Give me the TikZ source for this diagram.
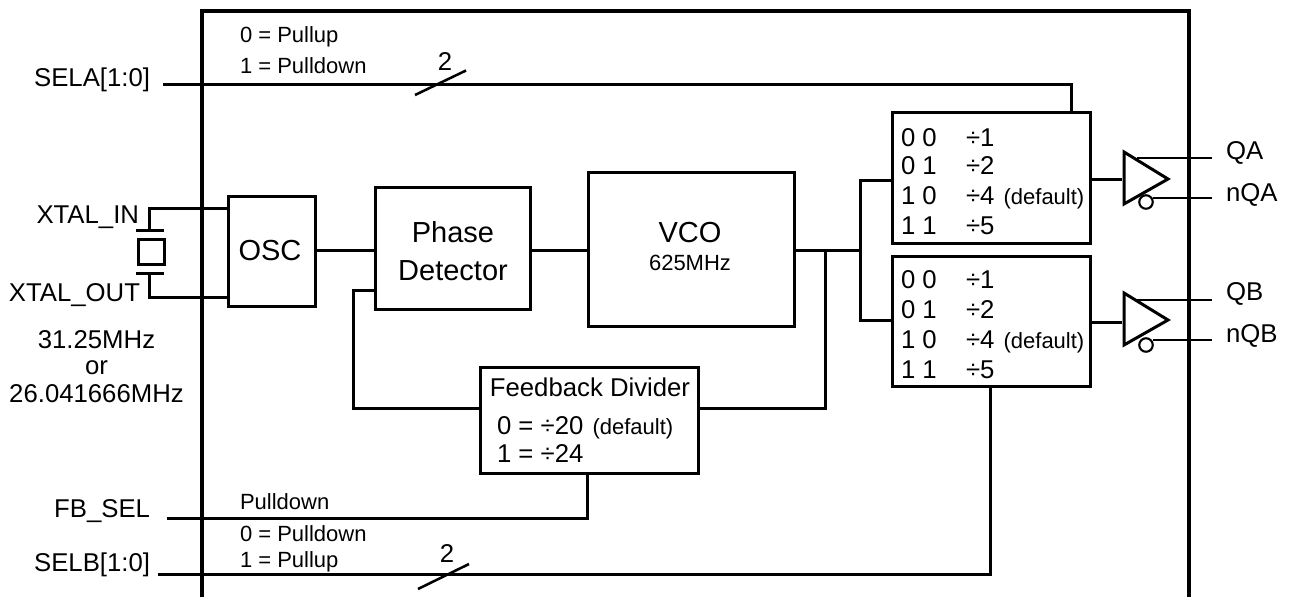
\documentclass[tikz,border=0pt]{standalone}
\usepackage{fontspec}
\setmainfont{Liberation Sans}
\def\u{0.75pt}
\newcommand{\fL}{\fontsize{19.3pt}{19.3pt}\selectfont}
\newcommand{\fM}{\fontsize{16.5pt}{16.5pt}\selectfont}
\newcommand{\fB}{\fontsize{21.75pt}{21.75pt}\selectfont}
\tikzset{
  blk/.style={draw,line width=2.25pt,inner sep=0pt,outer sep=0pt,fill=white},
  wire/.style={line width=2.25pt,line join=miter},
  thin wire/.style={line width=1.9pt},
  frame/.style={line width=3pt},
  lab/.style={inner sep=0pt,outer sep=0pt,anchor=base west,font=\fL},
  labr/.style={inner sep=0pt,outer sep=0pt,anchor=base east,font=\fL},
  labc/.style={inner sep=0pt,outer sep=0pt,anchor=base,font=\fL,align=center},
  note/.style={inner sep=0pt,outer sep=0pt,anchor=base west,font=\fM},
  slashw/.style={line width=1.9pt},
}
\begin{document}
\begin{tikzpicture}[x=0.75pt,y=-0.75pt]
\useasboundingbox (0,0) rectangle (1293,597);
\fill[white] (0,0) rectangle (1293,597);
\draw[frame] (202,597) -- (202,11) -- (1189,11) -- (1189,597);

% boxes
\node[blk,minimum width=87*\u,minimum height=110*\u] (osc) at (272,251) {};
\node[blk,minimum width=155*\u,minimum height=122*\u] (pd) at (452.7,248) {};
\node[blk,minimum width=206*\u,minimum height=154*\u] (vco) at (691,249) {};
\node[blk,minimum width=218*\u,minimum height=106*\u] (fb) at (589.5,420) {};
\node[blk,minimum width=198*\u,minimum height=131*\u] (muxa) at (991,177.5) {};
\node[blk,minimum width=198*\u,minimum height=130*\u] (muxb) at (991,321) {};

% coordinates
\coordinate (selaS) at (163,84);
\coordinate (selaT) at (1071,84);
\coordinate (selbS) at (158,574);
\coordinate (selbT) at (990,574);
\coordinate (fbsS) at (167,518);
\coordinate (fbsT) at (587,518);
\coordinate (j0) at (0,250.5);
\coordinate (j1) at (825,250.5);
\coordinate (j2) at (860,250.5);
\coordinate (ja) at (860,180);
\coordinate (jb) at (860,320);
\coordinate (jf) at (825,408.5);
\coordinate (pa) at (353,290.5);
\coordinate (pb) at (353,408.5);
\coordinate (xa) at (149.5,208);
\coordinate (xb) at (149.5,297);
\coordinate (xc) at (149.5,230);
\coordinate (xd) at (149.5,273);

\draw[wire] (selaS) -- (selaT) -- (selaT |- muxa.north);
\draw[wire] (selbS) -- (selbT) -- (selbT |- muxb.south);
\draw[wire] (fbsS) -- (fbsT) -- (fbsT |- fb.south);
\draw[wire] (osc.east |- j0) -- (pd.west |- j0);
\draw[wire] (pd.east |- j0) -- (vco.west |- j0);
\draw[wire] (vco.east |- j0) -- (j2);
\draw[wire] (muxa.west |- ja) -- (ja) -- (jb) -- (muxb.west |- jb);
\draw[wire] (j1) -- (jf) -- (fb.east |- jf);
\draw[wire] (fb.west |- pb) -- (pb) -- (pa) -- (pd.west |- pa);

% crystal
\draw[wire] (osc.west |- xa) -- (xa) -- (xc);
\draw[wire] (osc.west |- xb) -- (xb) -- (xd);
\coordinate (p1a) at (136,230); \coordinate (p1b) at (164,230);
\coordinate (p2a) at (136,273); \coordinate (p2b) at (164,273);
\draw[wire] (p1a) -- (p1b);
\draw[wire] (p2a) -- (p2b);
\node[blk,minimum width=26*\u,minimum height=25*\u] (xtal) at (151,251.5) {};

% slashes
\coordinate (s1a) at (415,95); \coordinate (s1b) at (466,70.5);
\coordinate (s2a) at (418,589); \coordinate (s2b) at (469,564);
\draw[slashw] (s1a) -- (s1b);
\draw[slashw] (s2a) -- (s2b);

% buffers
\foreach \n/\yy/\qq/\nq/\cy/\ly in {a/179/158/198/202/179,b/320/300/340/345/322}{
  \coordinate (t1\n) at (1124,\yy-27);
  \coordinate (t2\n) at (1124,\yy+25);
  \coordinate (t3\n) at (1168,\yy);
  \coordinate (ql\n) at (1137,\qq);
  \coordinate (qr\n) at (1212,\qq);
  \coordinate (nl\n) at (1153,\nq);
  \coordinate (nr\n) at (1212,\nq);
  \coordinate (ll\n) at (1122,\ly);
  \draw[thin wire] (ql\n) -- (qr\n);
  \draw[thin wire] (nl\n) -- (nr\n);
  \draw[wire] (mux\n.east |- ll\n) -- (ll\n);
  \draw[wire,line join=miter] (t1\n) -- (t2\n) -- (t3\n) -- cycle;
  \node[draw,circle,line width=1.6pt,fill=white,minimum size=13.5*\u,inner sep=0pt] (c\n) at (1146,\cy) {};
}

% text
\node[labr] (tsela) at (150,86) {SELA[1:0]};
\node[labr] (txin) at (139,223) {XTAL\_IN};
\node[labr] (txout) at (140,301.5) {XTAL\_OUT};
\node[labc] (tf1) at (96.5,348) {31.25MHz};
\node[labc] (tf2) at (96.5,374) {or};
\node[labc] (tf3) at (96.5,402) {26.041666MHz};
\node[labr] (tfbs) at (150,517) {FB\_SEL};
\node[labr] (tselb) at (150,571) {SELB[1:0]};

\node[note] (n1) at (240,42) {0 = Pullup};
\node[note] (n2) at (240,73) {1 = Pulldown};
\node[note] (n3) at (240,509) {Pulldown};
\node[note] (n4) at (240,541) {0 = Pulldown};
\node[note] (n5) at (240,567) {1 = Pullup};
\node[labc] (two1) at (445,70) {2};
\node[labc] (two2) at (447,562) {2};

\node[labc,font=\fB] (tosc) at (270,260) {OSC};
\node[labc,font=\fB] (tp) at (453,242.5) {Phase};
\node[labc,font=\fB] (td) at (453,280) {Detector};
\node[labc,font=\fB] (tv) at (690,242) {VCO};
\node[labc,font=\fM] (tv2) at (690,270) {625MHz};
\node[labc] (tfd) at (590,396) {Feedback Divider};
\node[lab] (tf0) at (497,434) {0 = ÷20\hspace{1.5pt} {\fM(default)}};
\node[lab] (tf4) at (497,462) {1 = ÷24};

\foreach \m/\ya/\yb/\yc/\yd in {a/146/174/204/234,b/288/318/348/378}{
  \node[lab] (r1\m) at (901,\ya) {0 0};
  \node[lab] (d1\m) at (966,\ya) {÷1};
  \node[lab] (r2\m) at (901,\yb) {0 1};
  \node[lab] (d2\m) at (966,\yb) {÷2};
  \node[lab] (r3\m) at (901,\yc) {1 0};
  \node[lab] (d3\m) at (966,\yc) {÷4\hspace{1.5pt} {\fM(default)}};
  \node[lab] (r4\m) at (901,\yd) {1 1};
  \node[lab] (d4\m) at (966,\yd) {÷5};
}
\node[lab] (tqa) at (1226,159) {QA};
\node[lab] (tnqa) at (1226,201) {nQA};
\node[lab] (tqb) at (1226,300) {QB};
\node[lab] (tnqb) at (1226,342) {nQB};
\end{tikzpicture}
\end{document}
